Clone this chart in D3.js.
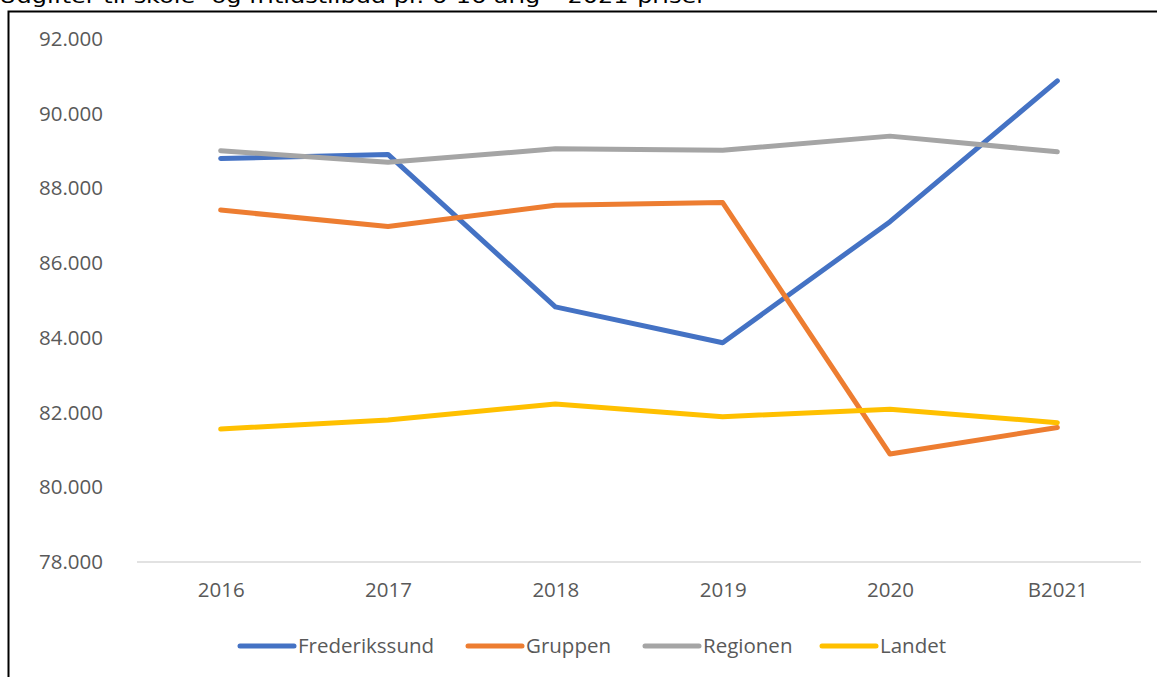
<!DOCTYPE html>
<html>
<head>
<meta charset="utf-8">
<script src="https://cdn.jsdelivr.net/npm/d3@7"></script>
<style>
  html, body { margin: 0; padding: 0; background: #fff; overflow: hidden; }
  svg { display: block; }
</style>
</head>
<body>
<svg id="chart" width="1157" height="677"></svg>
<script>
const title = "Udgifter til skole- og fritidstilbud pr. 6-16 årig – 2021-priser";
const categories = ["2016", "2017", "2018", "2019", "2020", "B2021"];
const frederikssund = [88800, 88910, 84830, 83870, 87110, 90880];
const gruppen       = [87420, 86980, 87550, 87620, 80890, 81600];
const regionen      = [89010, 88700, 89060, 89020, 89400, 88980];
const landet        = [81560, 81800, 82230, 81890, 82090, 81730];
const seriesNames = ["Frederikssund", "Gruppen", "Regionen", "Landet"];
const seriesColors = ["#4472C4", "#ED7D31", "#A5A5A5", "#FFC000"];
const yTicks = [78000, 80000, 82000, 84000, 86000, 88000, 90000, 92000];

const series = [frederikssund, gruppen, regionen, landet].map((vals, i) => ({
  name: seriesNames[i], color: seriesColors[i], values: vals
}));

const svg = d3.select("#chart");
const font = "'Open Sans', sans-serif";
const textColor = "#595959";

// Title (cut at top)
svg.append("text")
  .attr("x", -1).attr("y", 3)
  .attr("font-family", "'DejaVu Sans', Verdana, sans-serif")
  .attr("font-size", 19)
  .attr("fill", "#000")
  .attr("textLength", 707)
  .attr("lengthAdjust", "spacingAndGlyphs")
  .text(title);

// Frame
svg.append("rect")
  .attr("x", 8.5).attr("y", 11.5)
  .attr("width", 1300).attr("height", 1000)
  .attr("fill", "none").attr("stroke", "#000").attr("stroke-width", 2);

const x = d3.scalePoint().domain(categories).range([137, 1141]).padding(0.5);
const y = d3.scaleLinear().domain([78000, 92000]).range([562, 39]);

// Y axis labels
const yAxis = d3.axisLeft(y).tickValues(yTicks).tickSize(0).tickPadding(0)
  .tickFormat(d => d3.format(",")(d).replace(/,/g, "."));
const yg = svg.append("g").attr("transform", "translate(103,0)").call(yAxis);
yg.select(".domain").remove();
yg.selectAll("text")
  .attr("font-family", font).attr("font-size", 20.5).attr("fill", textColor);

// Baseline
svg.append("line")
  .attr("x1", 137).attr("x2", 1141)
  .attr("y1", y(78000)).attr("y2", y(78000))
  .attr("stroke", "#D9D9D9").attr("stroke-width", 1.5);

// X axis labels
const xAxis = d3.axisBottom(x).tickSize(0).tickPadding(0);
const xg = svg.append("g").attr("transform", "translate(0,582)").call(xAxis);
xg.select(".domain").remove();
xg.selectAll("text")
  .attr("font-family", font).attr("font-size", 20.5).attr("fill", textColor)
  .attr("dy", "0.71em");

// Lines
const line = d3.line()
  .x((d, i) => x(categories[i]))
  .y(d => y(d));

svg.append("g").selectAll("path")
  .data(series)
  .join("path")
  .attr("d", s => line(s.values))
  .attr("fill", "none")
  .attr("stroke", s => s.color)
  .attr("stroke-width", 5)
  .attr("stroke-linecap", "round")
  .attr("stroke-linejoin", "round");

// Legend
const legendX = [240, 468, 645, 822];
const legendY = 646;
const lg = svg.append("g").selectAll("g")
  .data(series)
  .join("g")
  .attr("transform", (s, i) => `translate(${legendX[i]},${legendY})`);
lg.append("line")
  .attr("x1", 0).attr("x2", 54).attr("y1", 0).attr("y2", 0)
  .attr("stroke", s => s.color).attr("stroke-width", 5)
  .attr("stroke-linecap", "round");
lg.append("text")
  .attr("x", 58).attr("y", 0).attr("dy", "0.35em")
  .attr("font-family", font).attr("font-size", 20.5).attr("fill", textColor)
  .text(s => s.name);
</script>
</body>
</html>
